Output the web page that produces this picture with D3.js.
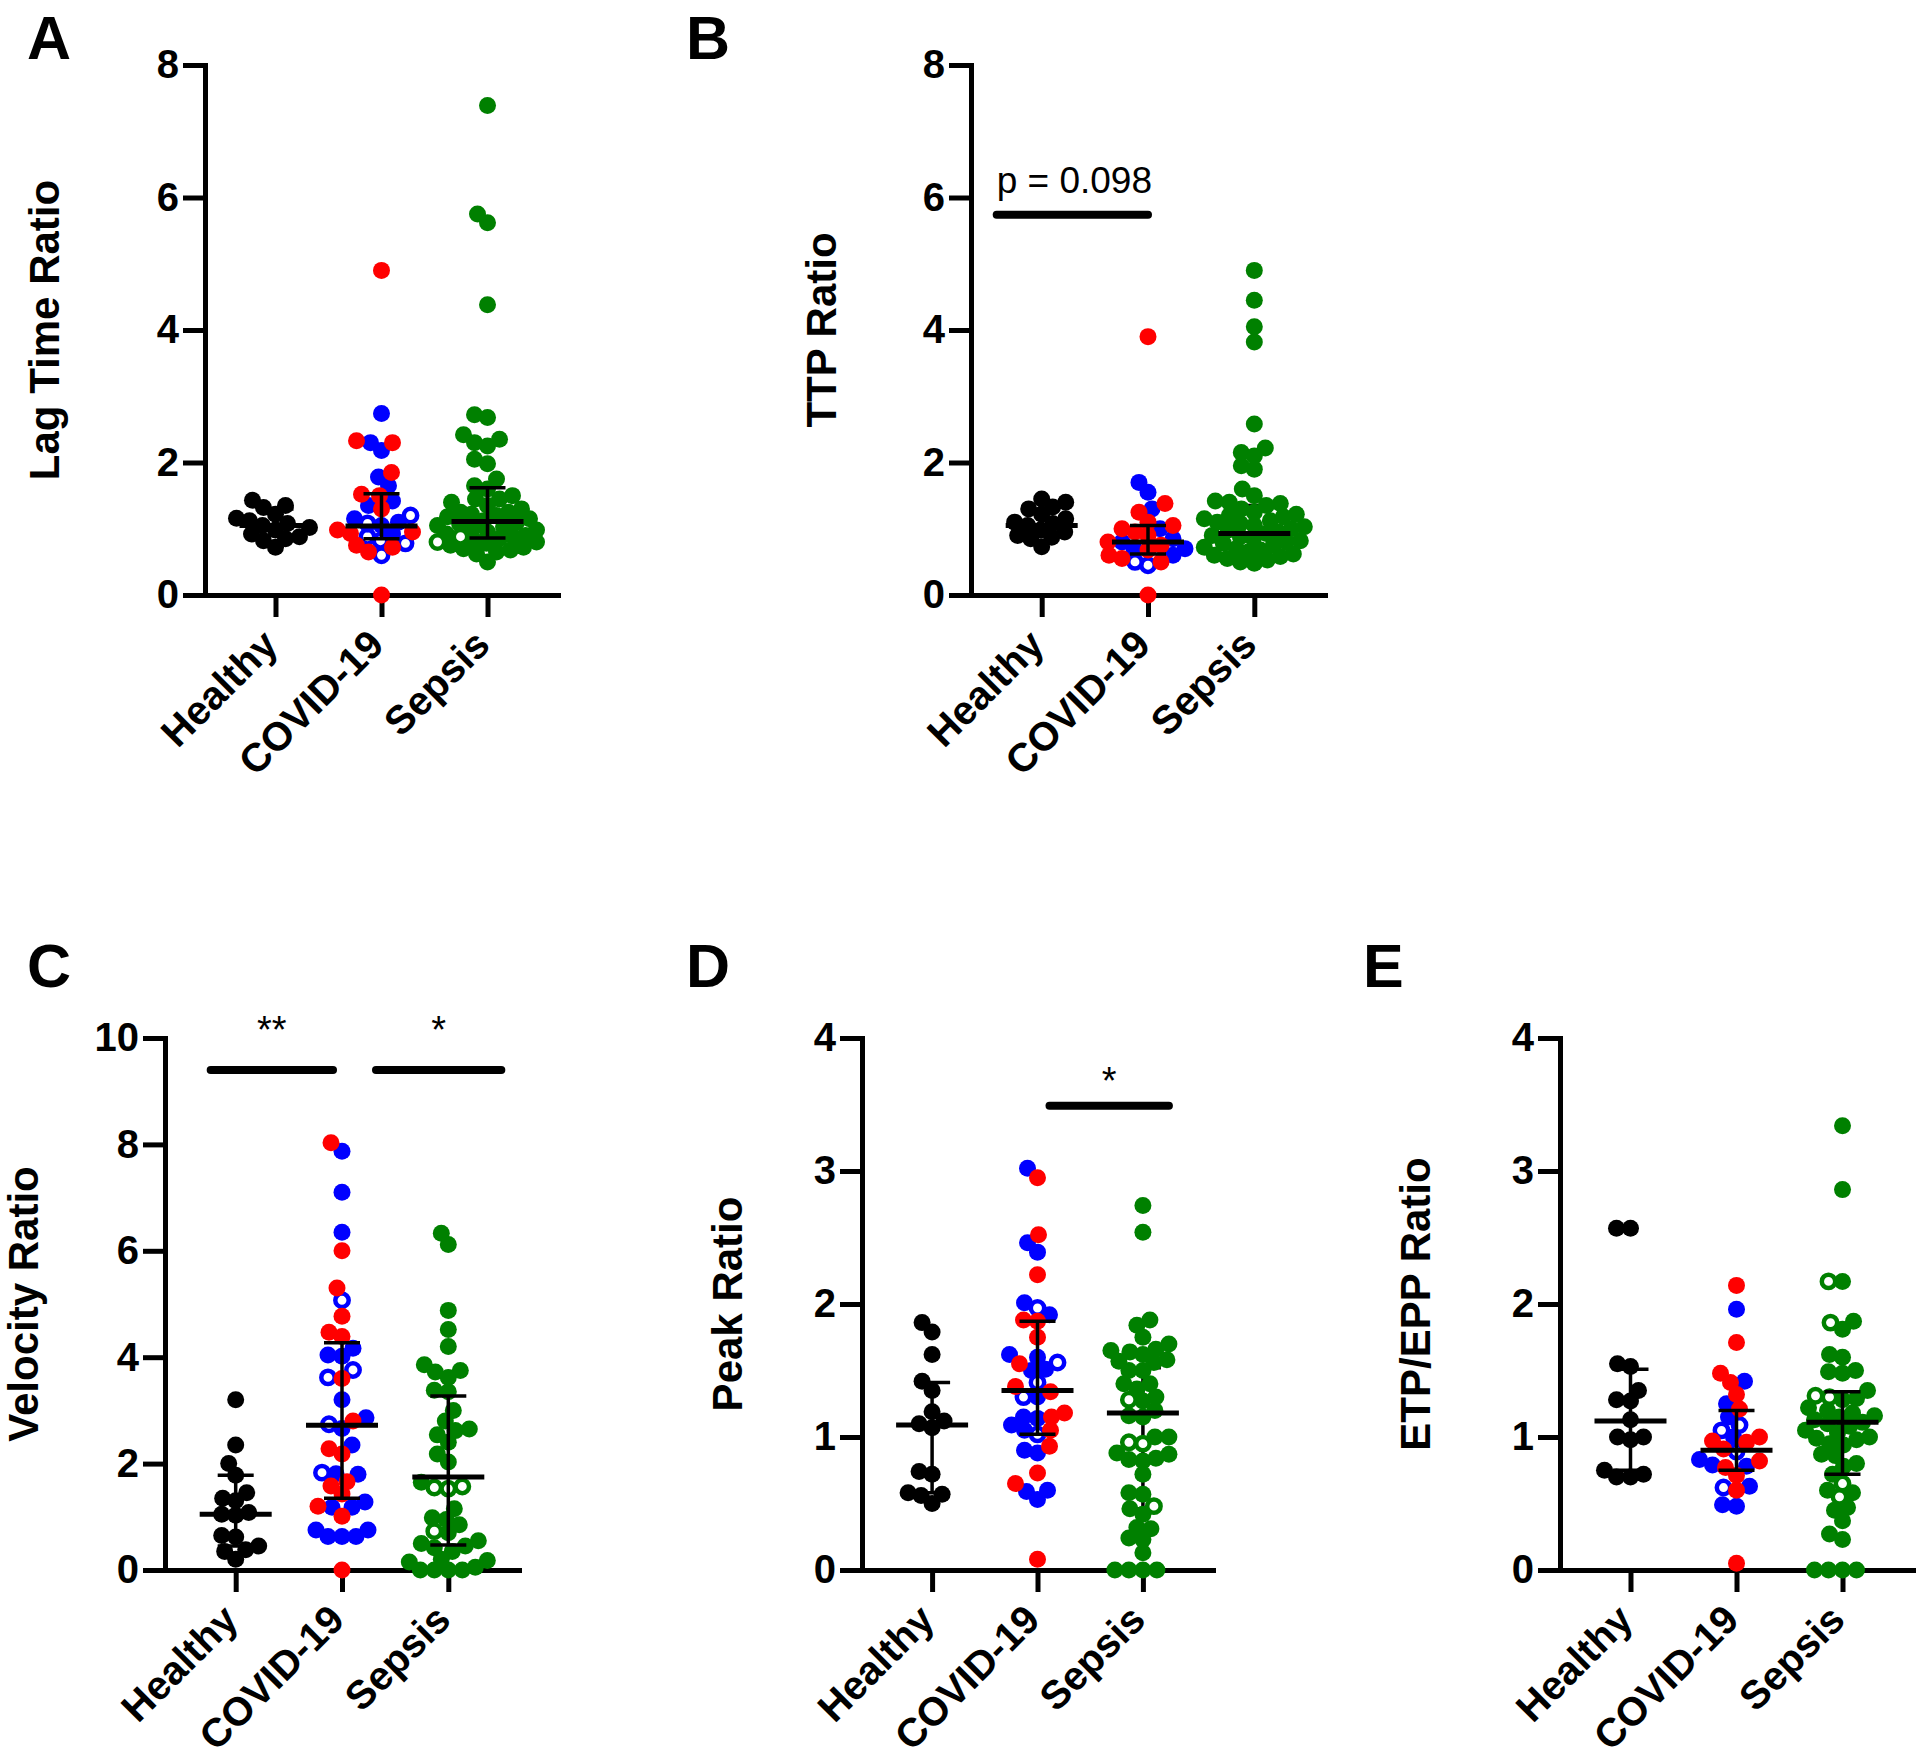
<!DOCTYPE html>
<html><head><meta charset="utf-8">
<script src="https://cdn.jsdelivr.net/npm/d3@7"></script>
<style>
body{margin:0;background:#fff}
svg{display:block}
text{font-family:"Liberation Sans",Arial,Helvetica,sans-serif}
</style>
</head><body>
<svg id="c" width="1920" height="1761"></svg>
<script>
const groups = ["Healthy", "COVID-19", "Sepsis"];

// ---- A: Lag Time Ratio ----
const lagHealthy = [1.43, 1.35, 1.32, 1.22, 1.16, 1.12, 1.08, 1.05, 1.02, 0.98, 0.92, 0.88, 0.85, 0.82, 0.72];
const lagCovidRed = [4.9, 2.33, 2.3, 1.85, 1.52, 1.5, 1.3, 0.98, 0.95, 0.93, 0.75, 0.72, 0.65, 0.0];
const lagCovidBlue = [2.74, 2.3, 2.18, 1.78, 1.65, 1.42, 1.35, 1.15, 1.1, 1.05, 0.92];
const lagCovidOpen = [1.2, 1.08, 0.88, 0.82, 0.78, 0.6];
const lagSepsis = [7.39, 5.75, 5.62, 4.38, 2.72, 2.68, 2.42, 2.35, 2.3, 2.25, 2.05, 1.98, 1.75, 1.65, 1.6, 1.5, 1.45, 1.45, 1.4, 1.35, 1.3, 1.25, 1.25, 1.22, 1.2, 1.18, 1.15, 1.12, 1.1, 1.08, 1.05, 1.03, 1.0, 0.98, 0.95, 0.92, 0.9, 0.88, 0.85, 0.82, 0.8, 0.78, 0.75, 0.72, 0.7, 0.68, 0.65, 0.62, 0.5];
const lagSepsisOpen = [0.88, 0.8];
const lagMedian = [1.05, 1.04, 1.11];
const lagQ1 = [0.9, 0.85, 0.86];
const lagQ3 = [1.3, 1.53, 1.62];
const lagSig = [];

// ---- B: TTP Ratio ----
const ttpHealthy = [1.45, 1.4, 1.33, 1.3, 1.22, 1.15, 1.1, 1.08, 1.05, 0.98, 0.95, 0.9, 0.87, 0.85, 0.73];
const ttpCovidRed = [3.9, 1.38, 1.25, 1.1, 1.05, 1.0, 0.95, 0.9, 0.8, 0.75, 0.68, 0.6, 0.55, 0.5, 0.0];
const ttpCovidBlue = [1.7, 1.55, 1.3, 1.0, 0.85, 0.8, 0.7, 0.7, 0.6];
const ttpCovidOpen = [0.5, 0.45];
const ttpSepsis = [4.9, 4.45, 4.05, 3.82, 2.58, 2.22, 2.15, 2.1, 1.95, 1.9, 1.6, 1.5, 1.42, 1.4, 1.38, 1.35, 1.3, 1.25, 1.22, 1.2, 1.18, 1.15, 1.12, 1.1, 1.08, 1.05, 1.03, 1.0, 0.98, 0.95, 0.93, 0.9, 0.88, 0.85, 0.82, 0.8, 0.78, 0.75, 0.72, 0.7, 0.68, 0.65, 0.62, 0.6, 0.58, 0.55, 0.53, 0.5, 0.48];
const ttpSepsisOpen = [];
const ttpMedian = [1.05, 0.8, 0.93];
const ttpQ1 = [0.9, 0.62, 0.65];
const ttpQ3 = [1.3, 1.05, 1.35];
const ttpSig = [{from: 0, to: 1, value: 5.74, label: "p = 0.098", labelValue: 6.27}];

// ---- C: Velocity Ratio ----
const velHealthy = [3.2, 2.35, 2.0, 1.78, 1.45, 1.35, 1.3, 1.08, 1.05, 1.03, 0.65, 0.62, 0.45, 0.38, 0.35, 0.2];
const velCovidRed = [8.03, 6.0, 5.3, 4.77, 4.47, 4.39, 3.6, 2.8, 2.28, 2.18, 1.66, 1.58, 1.43, 1.2, 1.01, 0.0];
const velCovidBlue = [7.87, 7.1, 6.35, 4.17, 4.04, 4.02, 3.2, 2.86, 2.66, 2.35, 1.81, 1.8, 1.28, 1.18, 1.18, 0.75, 0.75, 0.63, 0.63, 0.63];
const velCovidOpen = [5.07, 3.76, 3.62, 2.74, 1.83];
const velSepsis = [6.33, 6.12, 4.88, 4.52, 4.2, 3.86, 3.75, 3.72, 3.62, 3.38, 3.35, 3.0, 2.8, 2.65, 2.62, 2.54, 2.4, 2.18, 2.03, 1.65, 1.15, 0.98, 0.95, 0.85, 0.7, 0.55, 0.5, 0.45, 0.42, 0.35, 0.2, 0.18, 0.15, 0.05, 0.0, 0.0, 0.0, 0.0];
const velSepsisOpen = [1.57, 1.55, 1.53, 0.73];
const velMedian = [1.05, 2.72, 1.75];
const velQ1 = [0.45, 1.35, 0.47];
const velQ3 = [1.78, 4.27, 3.27];
const velSig = [{from: 0, to: 1, value: 9.4, label: "**", labelValue: 10.3}, {from: 1, to: 2, value: 9.4, label: "*", labelValue: 10.3}];

// ---- D: Peak Ratio ----
const peakHealthy = [1.86, 1.79, 1.62, 1.42, 1.35, 1.19, 1.12, 1.1, 1.07, 0.74, 0.72, 0.58, 0.57, 0.56, 0.5];
const peakCovidRed = [2.95, 2.52, 2.22, 1.88, 1.87, 1.75, 1.55, 1.38, 1.34, 1.18, 1.15, 1.05, 0.93, 0.73, 0.65, 0.08];
const peakCovidBlue = [3.02, 2.46, 2.39, 2.01, 1.92, 1.62, 1.6, 1.51, 1.5, 1.3, 1.15, 1.14, 1.09, 1.05, 0.9, 0.88, 0.6, 0.59, 0.53];
const peakCovidOpen = [1.97, 1.56, 1.41, 1.3, 1.02];
const peakSepsis = [2.74, 2.54, 1.88, 1.84, 1.75, 1.7, 1.66, 1.65, 1.64, 1.62, 1.58, 1.57, 1.56, 1.5, 1.5, 1.4, 1.4, 1.36, 1.3, 1.27, 1.2, 1.16, 1.15, 1.0, 1.0, 0.88, 0.87, 0.84, 0.83, 0.82, 0.72, 0.58, 0.57, 0.46, 0.42, 0.32, 0.31, 0.24, 0.23, 0.13, 0.0, 0.0, 0.0, 0.0];
const peakSepsisOpen = [1.28, 0.96, 0.95, 0.48];
const peakMedian = [1.09, 1.35, 1.18];
const peakQ1 = [0.58, 1.02, 0.46];
const peakQ3 = [1.41, 1.87, 1.52];
const peakSig = [{from: 1, to: 2, value: 3.49, label: "*", labelValue: 3.74}];

// ---- E: ETP/EPP Ratio ----
const etpHealthy = [2.57, 2.57, 1.55, 1.53, 1.35, 1.28, 1.27, 1.13, 1.0, 1.0, 0.98, 0.75, 0.72, 0.7, 0.7];
const etpCovidRed = [2.14, 1.71, 1.48, 1.41, 1.32, 1.21, 1.0, 0.97, 0.96, 0.91, 0.82, 0.77, 0.71, 0.6, 0.05];
const etpCovidBlue = [1.96, 1.42, 1.25, 1.15, 1.0, 0.83, 0.79, 0.78, 0.63, 0.49, 0.48];
const etpCovidOpen = [1.09, 1.05, 0.89, 0.62];
const etpSepsis = [3.34, 2.86, 2.17, 1.87, 1.81, 1.62, 1.6, 1.5, 1.49, 1.48, 1.35, 1.29, 1.28, 1.22, 1.2, 1.18, 1.16, 1.15, 1.13, 1.11, 1.1, 1.08, 1.05, 1.03, 1.0, 0.99, 0.98, 0.95, 0.94, 0.87, 0.86, 0.8, 0.78, 0.72, 0.6, 0.58, 0.47, 0.45, 0.37, 0.27, 0.23, 0.0, 0.0, 0.0, 0.0];
const etpSepsisOpen = [2.17, 1.86, 1.31, 1.3, 0.65, 0.55];
const etpMedian = [1.12, 0.9, 1.11];
const etpQ1 = [0.75, 0.75, 0.72];
const etpQ3 = [1.51, 1.2, 1.34];
const etpSig = [];

const panels = [
  {id: "A", title: "Lag Time Ratio", max: 8, ticks: [0, 2, 4, 6, 8],
   healthy: lagHealthy, red: lagCovidRed, blue: lagCovidBlue, open: lagCovidOpen, sepsis: lagSepsis, sepsisOpen: lagSepsisOpen,
   median: lagMedian, q1: lagQ1, q3: lagQ3, sig: lagSig},
  {id: "B", title: "TTP Ratio", max: 8, ticks: [0, 2, 4, 6, 8],
   healthy: ttpHealthy, red: ttpCovidRed, blue: ttpCovidBlue, open: ttpCovidOpen, sepsis: ttpSepsis, sepsisOpen: ttpSepsisOpen,
   median: ttpMedian, q1: ttpQ1, q3: ttpQ3, sig: ttpSig},
  {id: "C", title: "Velocity Ratio", max: 10, ticks: [0, 2, 4, 6, 8, 10],
   healthy: velHealthy, red: velCovidRed, blue: velCovidBlue, open: velCovidOpen, sepsis: velSepsis, sepsisOpen: velSepsisOpen,
   median: velMedian, q1: velQ1, q3: velQ3, sig: velSig},
  {id: "D", title: "Peak Ratio", max: 4, ticks: [0, 1, 2, 3, 4],
   healthy: peakHealthy, red: peakCovidRed, blue: peakCovidBlue, open: peakCovidOpen, sepsis: peakSepsis, sepsisOpen: peakSepsisOpen,
   median: peakMedian, q1: peakQ1, q3: peakQ3, sig: peakSig},
  {id: "E", title: "ETP/EPP Ratio", max: 4, ticks: [0, 1, 2, 3, 4],
   healthy: etpHealthy, red: etpCovidRed, blue: etpCovidBlue, open: etpCovidOpen, sepsis: etpSepsis, sepsisOpen: etpSepsisOpen,
   median: etpMedian, q1: etpQ1, q3: etpQ3, sig: etpSig}
];

// ---- layout (positions / styles) ----
const layout = {
  A: {x0: 205, x1: 558, yTop: 65, yBot: 595, letterX: 27, letterY: 59, titleX: 59, barsBehind: [], sigOff: []},
  B: {x0: 971, x1: 1325, yTop: 65, yBot: 595, letterX: 686, letterY: 59, titleX: 836, barsBehind: [2], sigOff: [[-45, 0]]},
  C: {x0: 165, x1: 519, yTop: 1038, yBot: 1570, letterX: 27, letterY: 987, titleX: 38, barsBehind: [], sigOff: [[-25, -9], [34, 53]]},
  D: {x0: 862, x1: 1213, yTop: 1038, yBot: 1570, letterX: 686, letterY: 987, titleX: 742, barsBehind: [2], sigOff: [[12, 26]]},
  E: {x0: 1560, x1: 1913, yTop: 1038, yBot: 1570, letterX: 1363, letterY: 987, titleX: 1430, barsBehind: [], sigOff: []}
};
const R = 8.5;
const MIN_D = R * 1.55;
const MAX_OFF = 50;
const colors = {k: "#000000", r: "#ff0000", b: "#0000ff", o: "#0000ff", g: "#008000", go: "#008000"};
const drawOrder = {k: 0, g: 0, b: 1, o: 2, go: 2, r: 3};

function swarm(points, cx, y) {
  const sorted = points.slice().sort((a, b) => a.v - b.v);
  const placed = [];
  sorted.forEach(p => {
    const py = y(p.v);
    let chosen = null, bestOff = 0, bestScore = -1;
    for (let k = 0; k <= 2 * MAX_OFF; k++) {
      const o = (k % 2 === 0 ? 1 : -1) * Math.ceil(k / 2);
      const px = cx + o;
      let md = Infinity;
      placed.forEach(q => { const d = Math.hypot(q.x - px, q.y - py); if (d < md) md = d; });
      if (md >= MIN_D) { chosen = o; break; }
      if (md > bestScore + 0.5) { bestScore = md; bestOff = o; }
    }
    const off = chosen === null ? bestOff : chosen;
    placed.push(Object.assign({}, p, {x: cx + off, y: py}));
  });
  return placed;
}

const svg = d3.select("#c");
const FONT = "'Liberation Sans',Arial,sans-serif";

panels.forEach(p => {
  const L = layout[p.id];
  const g = svg.append("g");
  const y = d3.scaleLinear().domain([0, p.max]).range([L.yBot, L.yTop]);
  const x = d3.scalePoint().domain(groups).range([L.x0, L.x1]).padding(0.665);

  g.append("text").attr("x", L.letterX).attr("y", L.letterY)
    .attr("font-size", 61).attr("font-weight", "bold").text(p.id);

  g.append("text")
    .attr("transform", `translate(${L.titleX},${(L.yTop + L.yBot) / 2}) rotate(-90)`)
    .attr("text-anchor", "middle").attr("font-size", 42).attr("font-weight", "bold")
    .text(p.title);

  const yAx = g.append("g").attr("transform", `translate(${L.x0},0)`)
    .call(d3.axisLeft(y).tickValues(p.ticks).tickSize(22).tickSizeOuter(0).tickPadding(4).tickFormat(d3.format("d")));
  yAx.select(".domain").attr("stroke", "#000").attr("stroke-width", 5).attr("stroke-linecap", "square");
  yAx.selectAll(".tick line").attr("stroke", "#000").attr("stroke-width", 5);
  yAx.selectAll(".tick text").attr("font-size", 40).attr("font-weight", "bold").attr("fill", "#000")
    .attr("font-family", FONT);

  const xAx = g.append("g").attr("transform", `translate(0,${L.yBot})`)
    .call(d3.axisBottom(x).tickSize(22).tickSizeOuter(0));
  xAx.select(".domain").attr("stroke", "#000").attr("stroke-width", 5).attr("stroke-linecap", "square");
  xAx.selectAll(".tick line").attr("stroke", "#000").attr("stroke-width", 5);
  xAx.selectAll(".tick text").attr("font-size", 40).attr("font-weight", "bold").attr("fill", "#000")
    .attr("font-family", FONT)
    .attr("text-anchor", "end").attr("x", 0).attr("y", 0).attr("dy", 0)
    .attr("transform", "translate(4,52) rotate(-45)");

  const grpPts = [
    p.healthy.map(v => ({v, t: "k"})),
    [].concat(p.blue.map(v => ({v, t: "b"})), p.open.map(v => ({v, t: "o"})), p.red.map(v => ({v, t: "r"}))),
    [].concat(p.sepsis.map(v => ({v, t: "g"})), p.sepsisOpen.map(v => ({v, t: "go"})))
  ];

  function drawBars(sel, i) {
    const cx = x(groups[i]);
    const bg = sel.append("g").attr("stroke", "#000").attr("fill", "none");
    bg.append("line").attr("x1", cx).attr("x2", cx).attr("y1", y(p.q1[i])).attr("y2", y(p.q3[i])).attr("stroke-width", 3.5);
    bg.append("line").attr("x1", cx - 18).attr("x2", cx + 18).attr("y1", y(p.q1[i])).attr("y2", y(p.q1[i])).attr("stroke-width", 3.5);
    bg.append("line").attr("x1", cx - 18).attr("x2", cx + 18).attr("y1", y(p.q3[i])).attr("y2", y(p.q3[i])).attr("stroke-width", 3.5);
  }
  function drawMedian(sel, i) {
    const cx = x(groups[i]);
    sel.append("line").attr("x1", cx - 36).attr("x2", cx + 36).attr("y1", y(p.median[i])).attr("y2", y(p.median[i]))
      .attr("stroke", "#000").attr("stroke-width", 5);
  }

  grpPts.forEach((pts, i) => {
    if (L.barsBehind.includes(i)) drawBars(g, i);
    const placed = swarm(pts, x(groups[i]), y).sort((a, b) => drawOrder[a.t] - drawOrder[b.t]);
    const isOpen = d => d.t === "o" || d.t === "go";
    g.append("g").selectAll("circle").data(placed).join("circle")
      .attr("cx", d => d.x).attr("cy", d => d.y)
      .attr("r", d => isOpen(d) ? R - 1.8 : R)
      .attr("fill", d => isOpen(d) ? "#fff" : colors[d.t])
      .attr("stroke", d => isOpen(d) ? colors[d.t] : "none")
      .attr("stroke-width", 4.5);
    if (!L.barsBehind.includes(i)) drawBars(g, i);
    drawMedian(g, i);
  });

  p.sig.forEach((s, k) => {
    const off = L.sigOff[k];
    const xa = x(groups[s.from]) + off[0];
    const xb = x(groups[s.to]) + off[1];
    g.append("line").attr("x1", xa).attr("x2", xb).attr("y1", y(s.value)).attr("y2", y(s.value))
      .attr("stroke", "#000").attr("stroke-width", 8).attr("stroke-linecap", "round");
    const isStar = s.label.startsWith("*");
    g.append("text")
      .attr("x", isStar ? (xa + xb) / 2 : xa)
      .attr("y", y(s.labelValue) + (isStar ? 21 : 13))
      .attr("text-anchor", isStar ? "middle" : "start")
      .attr("font-size", isStar ? 38 : 37).attr("fill", "#000")
      .text(s.label);
  });
});
</script>
</body></html>
